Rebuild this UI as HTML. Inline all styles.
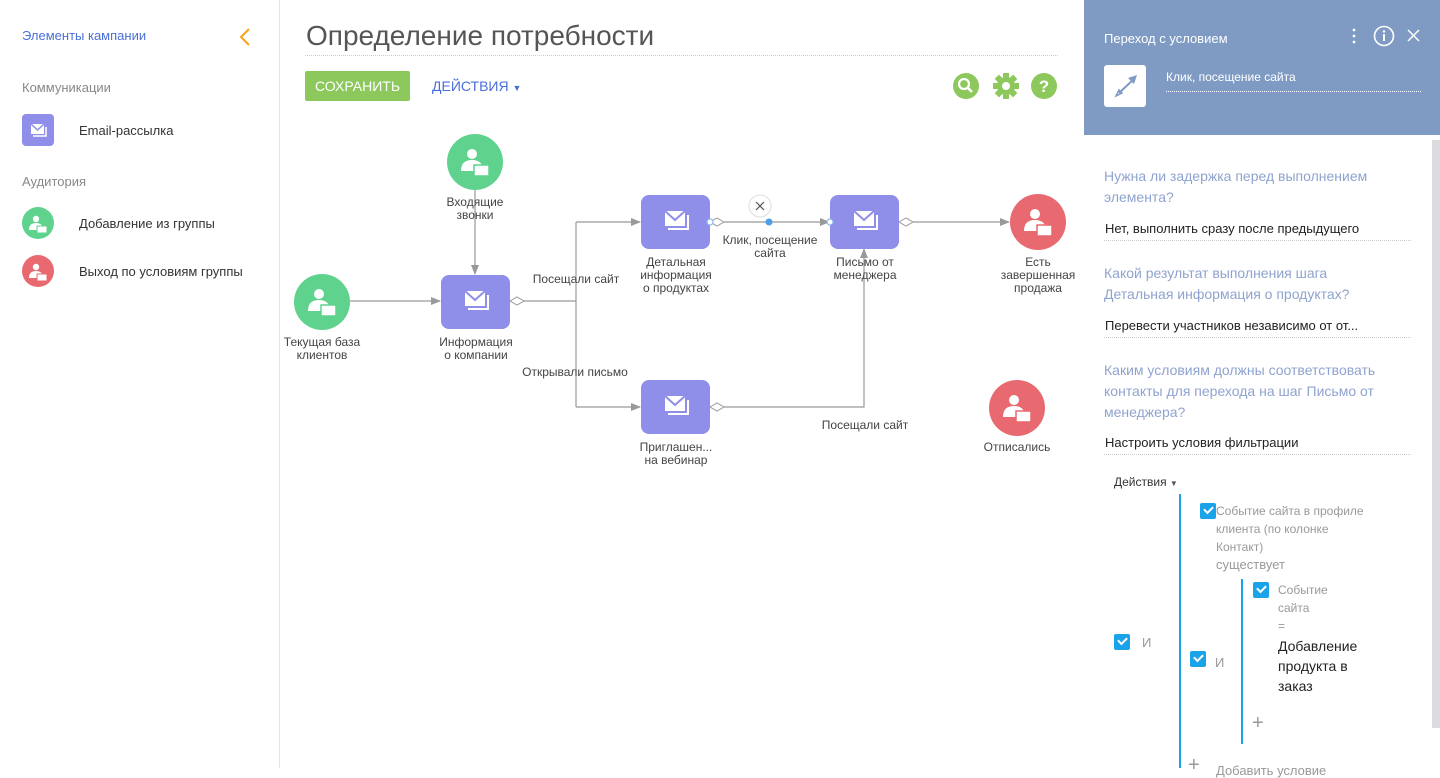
<!DOCTYPE html>
<html><head><meta charset="utf-8"><style>
*{margin:0;padding:0;box-sizing:border-box}
body{width:1440px;height:768px;overflow:hidden;background:#fff;font-family:"Liberation Sans","DejaVu Sans",sans-serif;position:relative;color:#333}
.a{position:absolute;white-space:nowrap}
.q{color:#8fa3cf;font-size:14px;line-height:21px;white-space:normal}
.v{font-size:13px;color:#222}
.dot{position:absolute;border-bottom:1px dotted #ccc}
.cb{position:absolute;width:16px;height:16px;background:#1aa3e8;border-radius:2px}
.cb:after{content:"";position:absolute;left:4px;top:3px;width:7px;height:4px;border-left:2px solid #fff;border-bottom:2px solid #fff;transform:rotate(-45deg)}
.g{color:#999;font-size:12px;line-height:18px}
</style></head><body>
<svg width="0" height="0" style="position:absolute"><defs>
<g id="p"><circle cx="-3" cy="-8" r="5" fill="#fff"/><path d="M-14 9 Q-14 -2 -3 -2 Q8 -2 8 9 Z" fill="#fff"/><rect x="-1" y="3" width="15" height="11" fill="#fff" stroke="currentColor" stroke-width="1.5"/></g>
<g id="ps"><circle cx="-2" cy="-5" r="3.2" fill="#fff"/><path d="M-9 6 Q-9 -1 -2 -1 Q5 -1 5 6 Z" fill="#fff"/><rect x="-1" y="2" width="10" height="7" fill="#fff" stroke="currentColor" stroke-width="1"/></g>
</defs></svg>
<!-- left panel -->
<div class="a" style="left:22px;top:28px;font-size:13px;color:#4a6fd8">Элементы кампании</div>
<svg class="a" style="left:238px;top:27px" width="14" height="20"><path d="M11 2 L3 10 L11 18" stroke="#f7a21b" stroke-width="2" fill="none"/></svg>
<div class="a" style="left:22px;top:80px;font-size:13px;color:#888">Коммуникации</div>
<div class="a" style="left:22px;top:114px;width:32px;height:32px;background:#8f8ee8;border-radius:4px"></div>
<svg class="a" style="left:22px;top:114px" width="32" height="32"><rect x="9" y="10" width="13" height="10" fill="#fff"/><path d="M9 10 L15.5 16 L22 10" stroke="#8f8ee8" stroke-width="1.5" fill="none"/><path d="M11 22 H24 V13" stroke="#fff" stroke-width="1.5" fill="none"/></svg>
<div class="a" style="left:79px;top:123px;font-size:13px">Email-рассылка</div>
<div class="a" style="left:22px;top:174px;font-size:13px;color:#888">Аудитория</div>
<svg class="a" style="left:22px;top:207px" width="32" height="80">
<circle cx="16" cy="16" r="16" fill="#5fd38d"/><use href="#ps" x="16" y="17" style="color:#5fd38d"/>
<circle cx="16" cy="64" r="16" fill="#e8696f"/><use href="#ps" x="16" y="65" style="color:#e8696f"/>
</svg>
<div class="a" style="left:79px;top:216px;font-size:13px">Добавление из группы</div>
<div class="a" style="left:79px;top:264px;font-size:13px">Выход по условиям группы</div>
<div class="a" style="left:279px;top:0;width:1px;height:768px;background:#e4e4e4"></div>

<!-- header -->
<div class="a" style="left:306px;top:20px;font-size:28px;color:#555;font-weight:300">Определение потребности</div>
<div class="dot" style="left:305px;top:55px;width:753px"></div>
<div class="a" style="left:305px;top:71px;width:105px;height:30px;background:#8cc85b;border-radius:2px;color:#fff;font-size:14px;line-height:30px;text-align:center">СОХРАНИТЬ</div>
<div class="a" style="left:432px;top:78px;font-size:14px;color:#4a6fd8">ДЕЙСТВИЯ <span style="font-size:9px">▼</span></div>
<svg class="a" style="left:950px;top:70px" width="110" height="32">
<circle cx="16" cy="16" r="13" fill="#8cc85b"/><circle cx="14" cy="14" r="5" stroke="#fff" stroke-width="2.2" fill="none"/><path d="M18 18 L22 22" stroke="#fff" stroke-width="2.5"/>
<g transform="translate(56,16)" fill="#8cc85b"><circle r="9"/><rect x="-3" y="-13" width="6" height="26"/><rect x="-13" y="-3" width="26" height="6"/><rect x="-3" y="-13" width="6" height="26" transform="rotate(45)"/><rect x="-3" y="-13" width="6" height="26" transform="rotate(-45)"/><circle r="4" fill="#fff"/></g>
<circle cx="94" cy="16" r="13" fill="#8cc85b"/><text x="94" y="22" font-size="17" font-weight="bold" fill="#fff" text-anchor="middle" font-family="Liberation Sans">?</text>
</svg>

<!-- diagram -->
<svg class="a" style="left:0;top:0" width="1084" height="768" font-family="Liberation Sans" font-size="12" fill="#444">
<defs>
<g id="m"><rect x="-35" y="-27" width="69" height="54" rx="8" fill="#8f8ee8"/><rect x="-11" y="-11" width="20" height="15" fill="#fff"/><path d="M-11 -11 L-1 -2 L9 -11" stroke="#8f8ee8" stroke-width="2" fill="none"/><path d="M-8 7 H12 V-7" stroke="#fff" stroke-width="2" fill="none"/></g>
<marker id="ar" markerWidth="10" markerHeight="8" refX="9" refY="4" orient="auto" markerUnits="userSpaceOnUse"><path d="M0 0 L10 4 L0 8 Z" fill="#999"/></marker>
</defs>
<g stroke="#999" stroke-width="1.2" fill="none">
<path d="M475 190 V274" marker-end="url(#ar)"/>
<path d="M350 301 H440" marker-end="url(#ar)"/>
<path d="M524 301 H576 M576 222 V407"/>
<path d="M576 222 H640" marker-end="url(#ar)"/>
<path d="M576 407 H640" marker-end="url(#ar)"/>
<path d="M724 222 H829" marker-end="url(#ar)"/>
<path d="M724 407 H864 V249" marker-end="url(#ar)"/>
<path d="M913 222 H1009" marker-end="url(#ar)"/>
</g>
<g fill="#fff" stroke="#999" stroke-width="1"><path d="M510 301 l7 -4 l7 4 l-7 4z"/><path d="M710 222 l7 -4 l7 4 l-7 4z"/><path d="M710 407 l7 -4 l7 4 l-7 4z"/><path d="M899 222 l7 -4 l7 4 l-7 4z"/></g>
<circle cx="475" cy="162" r="28" fill="#5fd38d"/><use href="#p" x="475" y="162" style="color:#5fd38d"/>
<circle cx="322" cy="302" r="28" fill="#5fd38d"/><use href="#p" x="322" y="302" style="color:#5fd38d"/>
<circle cx="1038" cy="222" r="28" fill="#e8696f"/><use href="#p" x="1038" y="222" style="color:#e8696f"/>
<circle cx="1017" cy="408" r="28" fill="#e8696f"/><use href="#p" x="1017" y="408" style="color:#e8696f"/>
<use href="#m" x="476" y="302"/><use href="#m" x="676" y="222"/><use href="#m" x="865" y="222"/><use href="#m" x="676" y="407"/>
<g fill="#fff" stroke="#8fb8e8" stroke-width="1.2"><circle cx="710" cy="222" r="3"/><circle cx="830" cy="222" r="3"/></g>
<circle cx="769" cy="222" r="3.5" fill="#4a9fe8"/>
<circle cx="760" cy="206" r="11" fill="#fff" stroke="#ddd"/><path d="M756 202 l8 8 M764 202 l-8 8" stroke="#555" stroke-width="1.2"/>
<g text-anchor="middle">
<text x="475" y="206">Входящие</text><text x="475" y="219">звонки</text>
<text x="322" y="346">Текущая база</text><text x="322" y="359">клиентов</text>
<text x="476" y="346">Информация</text><text x="476" y="359">о компании</text>
<text x="676" y="266">Детальная</text><text x="676" y="279">информация</text><text x="676" y="292">о продуктах</text>
<text x="865" y="266">Письмо от</text><text x="865" y="279">менеджера</text>
<text x="1038" y="266">Есть</text><text x="1038" y="279">завершенная</text><text x="1038" y="292">продажа</text>
<text x="676" y="451">Приглашен...</text><text x="676" y="464">на вебинар</text>
<text x="1017" y="451">Отписались</text>
<text x="576" y="283">Посещали сайт</text>
<text x="575" y="376">Открывали письмо</text>
<text x="770" y="244">Клик, посещение</text><text x="770" y="257">сайта</text>
<text x="865" y="429">Посещали сайт</text>
</g>
</svg>

<!-- right panel -->
<div class="a" style="left:1084px;top:0;width:356px;height:135px;background:#7f9bc4"></div>
<div class="a" style="left:1104px;top:31px;font-size:13px;color:#fff">Переход с условием</div>
<svg class="a" style="left:1340px;top:25px" width="90" height="26"><g fill="#fff"><circle cx="14" cy="5" r="1.4"/><circle cx="14" cy="11" r="1.4"/><circle cx="14" cy="17" r="1.4"/></g><circle cx="44" cy="11" r="9.5" stroke="#fff" stroke-width="1.6" fill="none"/><rect x="43" y="9" width="2" height="7" fill="#fff"/><circle cx="44" cy="6.5" r="1.2" fill="#fff"/><path d="M68 5 l11 11 M79 5 l-11 11" stroke="#fff" stroke-width="1.5"/></svg>
<div class="a" style="left:1104px;top:65px;width:42px;height:42px;background:#fff;border-radius:3px"></div>
<svg class="a" style="left:1104px;top:65px" width="42" height="42"><path d="M15 28 L30 14" stroke="#7f9bc4" stroke-width="2"/><path d="M33 10 L24 13 L30 19Z" fill="#7f9bc4"/><path d="M12 31 l3 -6 l3 3 z" fill="none" stroke="#7f9bc4" stroke-width="1.5"/></svg>
<div class="a" style="left:1166px;top:70px;font-size:12px;color:#fff">Клик, посещение сайта</div>
<div class="a" style="left:1166px;top:91px;width:255px;border-bottom:1px dotted #fff"></div>
<div class="a" style="left:1432px;top:140px;width:8px;height:588px;background:#dcdce0"></div>

<div class="a q" style="left:1104px;top:166px;width:290px">Нужна ли задержка перед выполнением элемента?</div>
<div class="a v" style="left:1105px;top:221px">Нет, выполнить сразу после предыдущего</div>
<div class="dot" style="left:1104px;top:240px;width:307px"></div>
<div class="a q" style="left:1104px;top:263px;width:265px">Какой результат выполнения шага Детальная информация о продуктах?</div>
<div class="a v" style="left:1105px;top:318px">Перевести участников независимо от от...</div>
<div class="dot" style="left:1104px;top:337px;width:307px"></div>
<div class="a q" style="left:1104px;top:360px;width:290px">Каким условиям должны соответствовать контакты для перехода на шаг Письмо от менеджера?</div>
<div class="a v" style="left:1105px;top:435px">Настроить условия фильтрации</div>
<div class="dot" style="left:1104px;top:454px;width:307px"></div>

<div class="a" style="left:1114px;top:475px;font-size:12px;color:#333">Действия <span style="font-size:8px;color:#556">▼</span></div>
<div class="a" style="left:1179px;top:494px;width:2px;height:274px;background:#1aa3e8"></div>
<div class="cb" style="left:1114px;top:634px"></div><div class="a g" style="left:1142px;top:634px;font-size:13px">И</div>
<div class="cb" style="left:1200px;top:503px"></div>
<div class="a g" style="left:1216px;top:502px;white-space:normal;width:150px">Событие сайта в профиле клиента (по колонке Контакт)</div>
<div class="a" style="left:1216px;top:557px;font-size:13px;color:#999">существует</div>
<div class="a" style="left:1241px;top:579px;width:2px;height:165px;background:#1aa3e8"></div>
<div class="cb" style="left:1190px;top:651px"></div><div class="a g" style="left:1215px;top:654px;font-size:13px">И</div>
<div class="cb" style="left:1253px;top:582px"></div>
<div class="a g" style="left:1278px;top:581px;white-space:normal;width:60px">Событие сайта</div>
<div class="a g" style="left:1278px;top:617px">=</div>
<div class="a" style="left:1278px;top:636px;font-size:14px;line-height:20px;color:#222;white-space:normal;width:90px">Добавление продукта в заказ</div>
<div class="a" style="left:1252px;top:712px;font-size:20px;color:#999;font-weight:300">+</div>
<div class="a" style="left:1188px;top:754px;font-size:20px;color:#999;font-weight:300">+</div>
<div class="a" style="left:1216px;top:763px;font-size:13px;color:#999">Добавить условие</div>
</body></html>
